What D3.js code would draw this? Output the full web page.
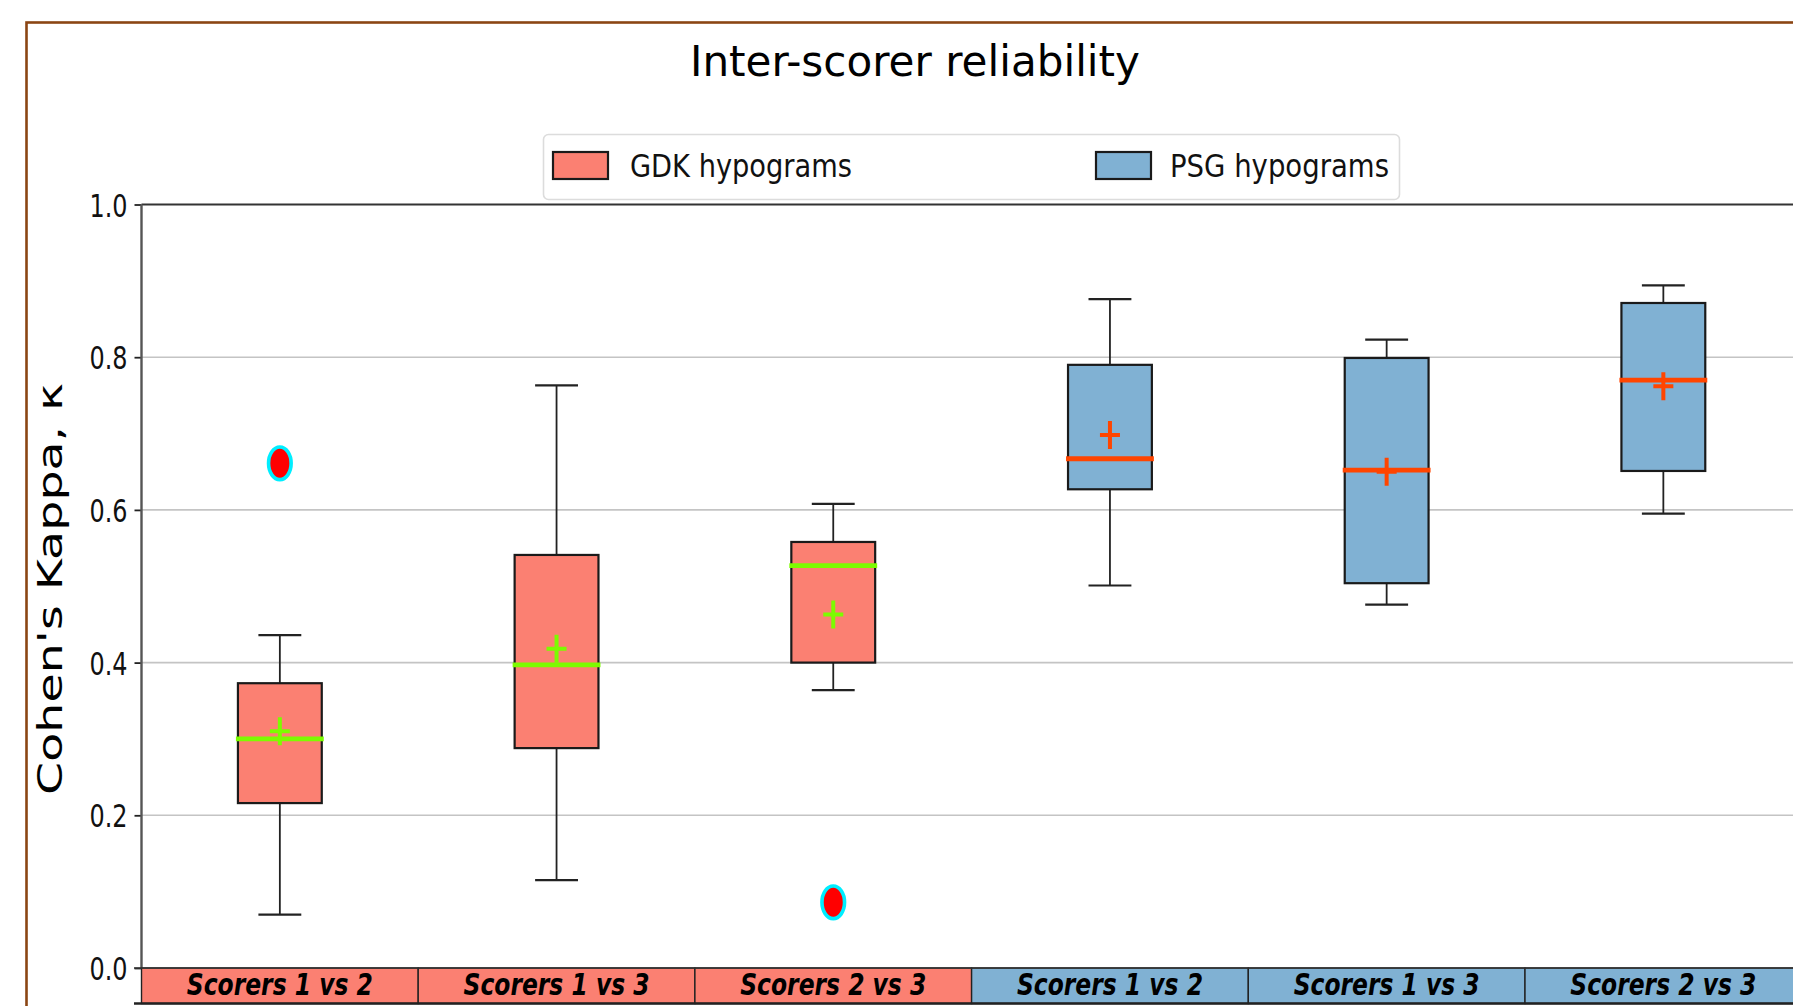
<!DOCTYPE html>
<html>
<head>
<meta charset="utf-8">
<script src="https://cdn.jsdelivr.net/npm/d3@7"></script>
<style>
  html, body { margin: 0; padding: 0; background: #fff; }
  svg { display: block; font-family: 'DejaVu Sans', sans-serif; }
</style>
</head>
<body>
<svg id="chart" width="1793" height="1006"></svg>
<script>
// data
const categories = ['Scorers 1 vs 2', 'Scorers 1 vs 3', 'Scorers 2 vs 3', 'Scorers 1 vs 2', 'Scorers 1 vs 3', 'Scorers 2 vs 3']
const groups = ['GDK', 'GDK', 'GDK', 'PSG', 'PSG', 'PSG']
const whiskerLow = [0.070, 0.115, 0.364, 0.501, 0.476, 0.595]
const quartile1 = [0.216, 0.288, 0.400, 0.627, 0.504, 0.651]
const medians = [0.300, 0.397, 0.527, 0.667, 0.652, 0.770]
const means = [0.310, 0.418, 0.463, 0.698, 0.650, 0.762]
const quartile3 = [0.373, 0.541, 0.558, 0.790, 0.799, 0.871]
const whiskerHigh = [0.436, 0.763, 0.608, 0.876, 0.823, 0.894]
const outliers = [[0.661], [], [0.086], [], [], []]
const yTicks = [0.0, 0.2, 0.4, 0.6, 0.8, 1.0]
const legendLabels = ['GDK hypograms', 'PSG hypograms']

const fill = { GDK: '#fb8072', PSG: '#80b1d3' }
const medianColor = { GDK: '#7cfc00', PSG: '#ff4500' }

const svg = d3.select('#chart')
const plotLeft = 141.5
const bandW = 276.7
const plotTop = 204.5
const plotBottom = 968

const idx = d3.range(categories.length)
const x = d3.scaleBand()
  .domain(idx)
  .range([plotLeft, plotLeft + bandW * categories.length])
  .padding(0)
const y = d3.scaleLinear()
  .domain([0, 1])
  .range([plotBottom, plotTop])

const boxW = x.bandwidth() * 0.303
const capW = x.bandwidth() * 0.155
const cx = i => x(i) + x.bandwidth() / 2

// outer brown frame (runs off the right / bottom edge)
svg.append('rect')
  .attr('x', 26.5).attr('y', 22.5)
  .attr('width', 1900).attr('height', 1100)
  .attr('fill', 'none')
  .attr('stroke', '#8b4513')
  .attr('stroke-width', 2.6)

// title
svg.append('text')
  .attr('x', 915).attr('y', 76)
  .attr('text-anchor', 'middle')
  .attr('font-size', 43.5)
  .attr('textLength', 450)
  .attr('lengthAdjust', 'spacingAndGlyphs')
  .attr('fill', '#000')
  .text('Inter-scorer reliability')

// gridlines
svg.append('g')
  .selectAll('line')
  .data(yTicks.filter(t => t > 0 && t < 1))
  .join('line')
  .attr('x1', plotLeft).attr('x2', 1793)
  .attr('y1', d => y(d)).attr('y2', d => y(d))
  .attr('stroke', '#c4c4c4')
  .attr('stroke-width', 1.6)

// y axis
const yAxis = d3.axisLeft(y)
  .tickValues(yTicks)
  .tickFormat(d3.format('.1f'))
  .tickSize(7)
  .tickPadding(7)
const gy = svg.append('g')
  .attr('transform', `translate(${plotLeft},0)`)
  .call(yAxis)
gy.select('.domain').remove()
gy.selectAll('.tick line').attr('stroke', '#222').attr('stroke-width', 1.8)
gy.selectAll('.tick text')
  .attr('font-size', 32)
  .attr('font-family', 'DejaVu Sans')
  .attr('fill', '#111')
  .attr('dy', '0.36em')
  .attr('textLength', 38)
  .attr('lengthAdjust', 'spacingAndGlyphs')

// spines
svg.append('line')
  .attr('x1', plotLeft).attr('x2', 1793)
  .attr('y1', y(1)).attr('y2', y(1))
  .attr('stroke', '#333').attr('stroke-width', 2.2)
svg.append('line')
  .attr('x1', plotLeft).attr('x2', plotLeft)
  .attr('y1', y(1)).attr('y2', y(0))
  .attr('stroke', '#555').attr('stroke-width', 2.4)

// y label
svg.append('text')
  .attr('transform', 'translate(62,589) rotate(-90)')
  .attr('text-anchor', 'middle')
  .attr('font-size', 34)
  .attr('textLength', 412)
  .attr('lengthAdjust', 'spacingAndGlyphs')
  .attr('fill', '#000')
  .text("Cohen's Kappa, κ")

// boxes
const boxes = svg.append('g')
  .selectAll('g')
  .data(idx)
  .join('g')

boxes.append('line')
  .attr('x1', cx).attr('x2', cx)
  .attr('y1', i => y(whiskerLow[i])).attr('y2', i => y(quartile1[i]))
  .attr('stroke', '#222').attr('stroke-width', 1.8)
boxes.append('line')
  .attr('x1', cx).attr('x2', cx)
  .attr('y1', i => y(quartile3[i])).attr('y2', i => y(whiskerHigh[i]))
  .attr('stroke', '#222').attr('stroke-width', 1.8)
boxes.append('line')
  .attr('x1', i => cx(i) - capW / 2).attr('x2', i => cx(i) + capW / 2)
  .attr('y1', i => y(whiskerLow[i])).attr('y2', i => y(whiskerLow[i]))
  .attr('stroke', '#222').attr('stroke-width', 2.2)
boxes.append('line')
  .attr('x1', i => cx(i) - capW / 2).attr('x2', i => cx(i) + capW / 2)
  .attr('y1', i => y(whiskerHigh[i])).attr('y2', i => y(whiskerHigh[i]))
  .attr('stroke', '#222').attr('stroke-width', 2.2)

boxes.append('rect')
  .attr('x', i => cx(i) - boxW / 2)
  .attr('width', boxW)
  .attr('y', i => y(quartile3[i]))
  .attr('height', i => y(quartile1[i]) - y(quartile3[i]))
  .attr('fill', i => fill[groups[i]])
  .attr('stroke', '#1a1a1a')
  .attr('stroke-width', 2.2)

boxes.append('line')
  .attr('x1', i => cx(i) - boxW / 2 - 2).attr('x2', i => cx(i) + boxW / 2 + 2)
  .attr('y1', i => y(medians[i])).attr('y2', i => y(medians[i]))
  .attr('stroke', i => medianColor[groups[i]])
  .attr('stroke-width', 4.8)

// mean markers
boxes.append('path')
  .attr('d', i => {
    const mx = cx(i), my = y(means[i])
    return `M${mx - 10},${my}H${mx + 10}M${mx},${my - 14}V${my + 14}`
  })
  .attr('stroke', i => medianColor[groups[i]])
  .attr('stroke-width', 4)
  .attr('fill', 'none')

// outliers
boxes.selectAll('ellipse')
  .data(i => outliers[i].map(v => ({ i, v })))
  .join('ellipse')
  .attr('cx', d => cx(d.i))
  .attr('cy', d => y(d.v))
  .attr('rx', 11.3)
  .attr('ry', 16.3)
  .attr('fill', '#ff0000')
  .attr('stroke', '#00eeff')
  .attr('stroke-width', 3.6)

// category bar under the axis
const barTop = y(0)
const barBottom = 1003.5
const cells = svg.append('g')
  .selectAll('g')
  .data(idx)
  .join('g')
cells.append('rect')
  .attr('x', i => x(i)).attr('width', x.bandwidth())
  .attr('y', barTop).attr('height', barBottom - barTop)
  .attr('fill', i => fill[groups[i]])
  .attr('stroke', '#222')
  .attr('stroke-width', 1.4)
cells.append('text')
  .attr('x', cx)
  .attr('y', 995)
  .attr('text-anchor', 'middle')
  .attr('font-size', 29.5)
  .attr('font-weight', 'bold')
  .attr('font-style', 'italic')
  .attr('textLength', 186)
  .attr('lengthAdjust', 'spacingAndGlyphs')
  .attr('fill', '#000')
  .text(i => categories[i])

svg.append('line')
  .attr('x1', 134).attr('x2', 1793)
  .attr('y1', barBottom).attr('y2', barBottom)
  .attr('stroke', '#222').attr('stroke-width', 2.6)
svg.append('line')
  .attr('x1', 134).attr('x2', 1793)
  .attr('y1', barTop).attr('y2', barTop)
  .attr('stroke', '#333').attr('stroke-width', 1.6)

// legend
const legend = svg.append('g')
legend.append('rect')
  .attr('x', 543.5).attr('y', 134.5)
  .attr('width', 856).attr('height', 65)
  .attr('rx', 5)
  .attr('fill', '#fff')
  .attr('stroke', '#dcdcdc')
  .attr('stroke-width', 1.6)
const legendX = [553, 1096]
const legendTextX = [630, 1170]
const legendTextW = [222, 219]
legend.selectAll('rect.swatch')
  .data(legendLabels)
  .join('rect')
  .attr('class', 'swatch')
  .attr('x', (d, i) => legendX[i]).attr('y', 152)
  .attr('width', 55).attr('height', 27)
  .attr('fill', (d, i) => fill[i === 0 ? 'GDK' : 'PSG'])
  .attr('stroke', '#1a1a1a')
  .attr('stroke-width', 2.2)
legend.selectAll('text')
  .data(legendLabels)
  .join('text')
  .attr('x', (d, i) => legendTextX[i]).attr('y', 177)
  .attr('font-size', 32)
  .attr('textLength', (d, i) => legendTextW[i])
  .attr('lengthAdjust', 'spacingAndGlyphs')
  .attr('fill', '#111')
  .text(d => d)
</script>
</body>
</html>
